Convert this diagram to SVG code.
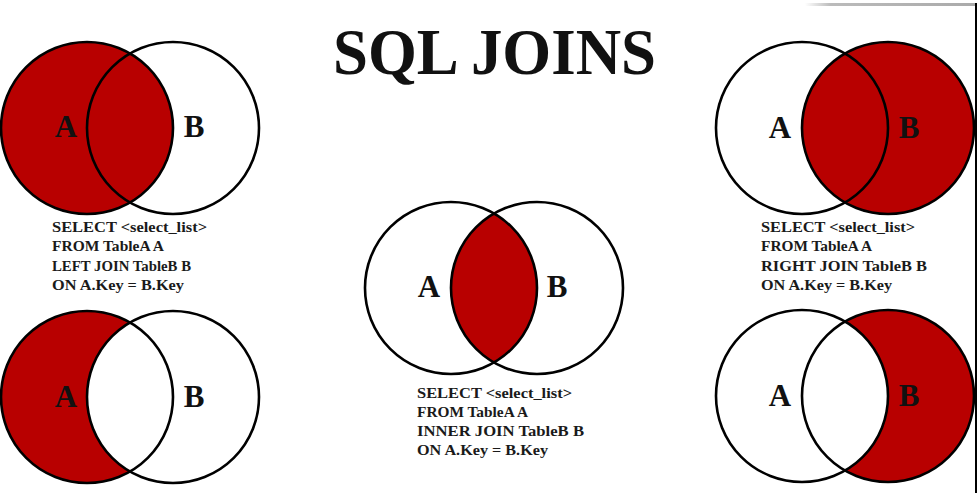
<svg xmlns="http://www.w3.org/2000/svg" width="978" height="493" viewBox="0 0 978 493">
  <defs>
    <linearGradient id="shadow" x1="0" y1="0" x2="1" y2="0">
      <stop offset="0" stop-color="#bbbbbb" stop-opacity="0"/>
      <stop offset="0.15" stop-color="#bbbbbb" stop-opacity="1"/>
      <stop offset="1" stop-color="#aaaaaa" stop-opacity="1"/>
    </linearGradient>
  </defs>
  <style>
    .red { fill: #b80000; }
    .white { fill: #ffffff; }
    .ring { fill: none; stroke: #000000; stroke-width: 2.6; }
    .lbl { font-family: "Liberation Serif", "Times New Roman", serif; font-weight: bold; font-size: 31px; fill: #111111; text-anchor: middle; }
    .sql { font-family: "Liberation Serif", "Times New Roman", serif; font-weight: bold; font-size: 15.5px; fill: #1a1a1a; }
    .title { font-family: "Liberation Serif", "Times New Roman", serif; font-weight: bold; font-size: 66px; fill: #111111; }
  </style>
  <rect x="0" y="0" width="978" height="493" fill="#ffffff"/>
  <rect x="805" y="3" width="171" height="3" fill="url(#shadow)"/>
  <rect x="975" y="3" width="2" height="490" fill="#000000"/>

  <g id="title">
    <text class="title" x="333" y="74" textLength="323" lengthAdjust="spacingAndGlyphs">SQL JOINS</text>
  </g>

  <g id="left-join">
    <circle class="red" cx="87" cy="128" r="86"/>
    <circle class="ring" cx="87" cy="128" r="86"/>
    <circle class="ring" cx="173" cy="128" r="86"/>
    <text class="lbl" x="66" y="137">A</text>
    <text class="lbl" x="194" y="137">B</text>
    <text class="sql" x="52" y="232" textLength="155" lengthAdjust="spacingAndGlyphs">SELECT &lt;select_list&gt;</text>
    <text class="sql" x="52" y="251" textLength="112" lengthAdjust="spacingAndGlyphs">FROM TableA A</text>
    <text class="sql" x="52" y="271" textLength="139" lengthAdjust="spacingAndGlyphs">LEFT JOIN TableB B</text>
    <text class="sql" x="52" y="290" textLength="132" lengthAdjust="spacingAndGlyphs">ON A.Key = B.Key</text>
  </g>

  <g id="right-join">
    <circle class="red" cx="888" cy="128" r="86"/>
    <circle class="ring" cx="802" cy="128" r="86"/>
    <circle class="ring" cx="888" cy="128" r="86"/>
    <text class="lbl" x="780" y="138">A</text>
    <text class="lbl" x="909" y="138">B</text>
    <text class="sql" x="761" y="232" textLength="154" lengthAdjust="spacingAndGlyphs">SELECT &lt;select_list&gt;</text>
    <text class="sql" x="761" y="251" textLength="111" lengthAdjust="spacingAndGlyphs">FROM TableA A</text>
    <text class="sql" x="761" y="271" textLength="166" lengthAdjust="spacingAndGlyphs">RIGHT JOIN TableB B</text>
    <text class="sql" x="761" y="290" textLength="131" lengthAdjust="spacingAndGlyphs">ON A.Key = B.Key</text>
  </g>

  <g id="inner-join">
    <path class="red" d="M 494 213.5 A 86 86 0 0 1 494 362.5 A 86 86 0 0 1 494 213.5 Z"/>
    <circle class="ring" cx="451" cy="288" r="86"/>
    <circle class="ring" cx="537" cy="288" r="86"/>
    <text class="lbl" x="429" y="297">A</text>
    <text class="lbl" x="557" y="297">B</text>
    <text class="sql" x="417" y="398" textLength="155" lengthAdjust="spacingAndGlyphs">SELECT &lt;select_list&gt;</text>
    <text class="sql" x="417" y="417" textLength="111" lengthAdjust="spacingAndGlyphs">FROM TableA A</text>
    <text class="sql" x="417" y="436" textLength="167" lengthAdjust="spacingAndGlyphs">INNER JOIN TableB B</text>
    <text class="sql" x="417" y="455" textLength="131" lengthAdjust="spacingAndGlyphs">ON A.Key = B.Key</text>
  </g>

  <g id="left-only">
    <circle class="red" cx="87" cy="397" r="86"/>
    <circle class="white" cx="173" cy="397" r="86"/>
    <circle class="ring" cx="87" cy="397" r="86"/>
    <circle class="ring" cx="173" cy="397" r="86"/>
    <text class="lbl" x="66" y="407">A</text>
    <text class="lbl" x="194" y="407">B</text>
  </g>

  <g id="right-only">
    <circle class="red" cx="888" cy="396" r="86"/>
    <circle class="white" cx="802" cy="396" r="86"/>
    <circle class="ring" cx="802" cy="396" r="86"/>
    <circle class="ring" cx="888" cy="396" r="86"/>
    <text class="lbl" x="780" y="406">A</text>
    <text class="lbl" x="909" y="406">B</text>
  </g>

  <g id="connectors"></g>
</svg>
